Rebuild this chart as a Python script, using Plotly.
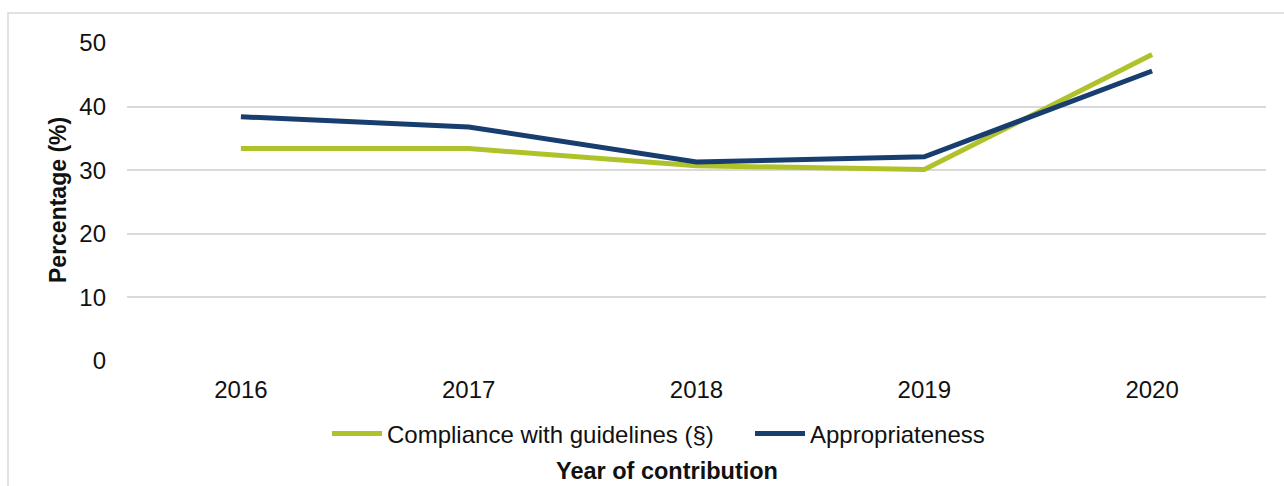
import plotly.graph_objects as go

years = ["2016", "2017", "2018", "2019", "2020"]
compliance = [33.4, 33.4, 30.7, 30.1, 48.2]
appropriateness = [38.4, 36.8, 31.3, 32.1, 45.6]
series_names = ["Compliance with guidelines (§)", "Appropriateness"]
y_ticks = [0, 10, 20, 30, 40, 50]

GREEN = "#AFC22A"
BLUE = "#173E6F"
FONT = "Liberation Sans, Arial, sans-serif"

fig = go.Figure()
fig.add_trace(go.Scatter(x=years, y=compliance, mode="lines", name=series_names[0],
                         line=dict(color=GREEN, width=5)))
fig.add_trace(go.Scatter(x=years, y=appropriateness, mode="lines", name=series_names[1],
                         line=dict(color=BLUE, width=5)))

W, H = 1284, 486
L, R, T, B = 127, 18, 43, 125
pw, ph = W - L - R, H - T - B

def px_x(p):
    return (p - L) / pw

def px_y(p):
    return (H - B - p) / ph

fig.update_layout(
    width=W, height=H,
    margin=dict(l=L, r=R, t=T, b=B),
    paper_bgcolor="white", plot_bgcolor="white",
    font=dict(family=FONT, size=24, color="#111111"),
    showlegend=True,
    legend=dict(orientation="h", x=px_x(327), xanchor="left", y=px_y(434), yanchor="middle",
                font=dict(size=24), tracegroupgap=0, itemwidth=50,
                entrywidth=358, entrywidthmode="pixels"),
    xaxis=dict(type="category", showgrid=False, zeroline=False, showline=False,
               ticks="", tickfont=dict(size=24), range=[-0.5, 4.5], ticklabelstandoff=12),
    yaxis=dict(range=[0, 50], tickvals=y_ticks, showgrid=True, gridcolor="#D9D9D9",
               gridwidth=1.5, zeroline=False, showline=False, ticks="",
               tickfont=dict(size=24), ticklabelstandoff=20),
    shapes=[dict(type="rect", xref="paper", yref="paper",
                 x0=px_x(8), x1=px_x(1300), y0=px_y(520), y1=px_y(13),
                 line=dict(color="#D9D9D9", width=1.5), fillcolor="rgba(0,0,0,0)", layer="below")],
    annotations=[
        dict(text="<b>Year of contribution</b>", xref="paper", yref="paper",
             x=px_x(667), y=px_y(471), xanchor="center", yanchor="middle",
             showarrow=False, font=dict(size=23.5)),
        dict(text="<b>Percentage (%)</b>", xref="paper", yref="paper",
             x=px_x(58), y=px_y(200), xanchor="center", yanchor="middle", textangle=-90,
             showarrow=False, font=dict(size=23)),
    ],
)

fig.write_html("out.html", config={"displayModeBar": False},
               post_script="document.body.style.margin='0';document.body.style.overflow='hidden';")
